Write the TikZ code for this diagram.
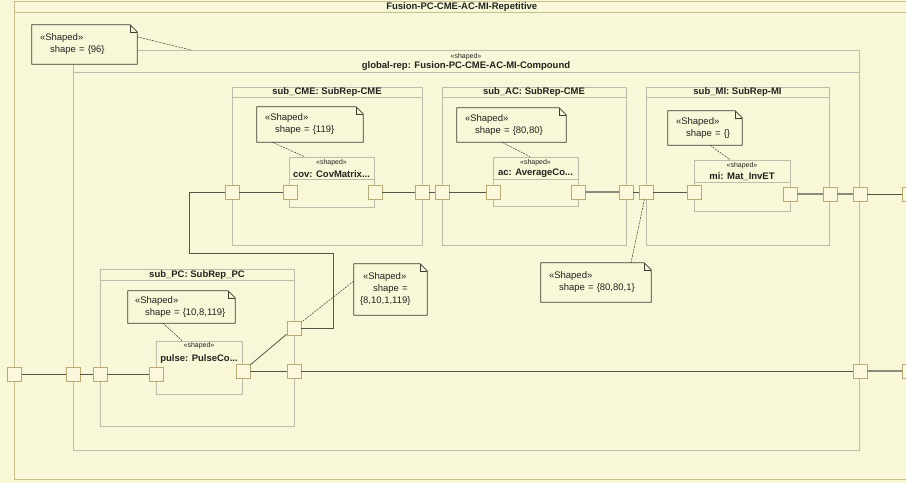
\documentclass[tikz,border=0pt]{standalone}
\usepackage{fontspec}
\setmainfont{Liberation Sans}
\usepackage{tikz}
\usetikzlibrary{positioning}

\definecolor{bgcol}{RGB}{248,247,216}
\definecolor{tanline}{RGB}{200,190,140}
\definecolor{framegray}{RGB}{190,188,172}
\definecolor{porttan}{RGB}{185,170,115}
\definecolor{portfill}{RGB}{251,248,222}
\definecolor{notebd}{RGB}{60,60,50}
\definecolor{connline}{RGB}{85,85,70}
\definecolor{conngray}{RGB}{140,140,125}
\definecolor{txtcol}{RGB}{35,35,30}

\begin{document}
\begin{tikzpicture}[
    x=1pt, y=-1pt,
    outerframe/.style={rectangle, draw=tanline, line width=1pt, inner sep=0pt},
    frame/.style={rectangle, draw=framegray, line width=0.8pt, inner sep=0pt},
    part/.style={rectangle, draw=framegray, fill=bgcol, line width=0.8pt, inner sep=0pt},
    port/.style={rectangle, draw=porttan, fill=portfill, line width=0.8pt, minimum size=14pt, inner sep=0pt},
    note/.style={rectangle, inner sep=0pt, align=left, text=txtcol,
      font=\fontsize{9.5}{12}\selectfont,
      append after command={\pgfextra{\filldraw[draw=notebd, fill=bgcol, line width=0.8pt]
        (\tikzlastnode.north west) -- ([xshift=-7pt]\tikzlastnode.north east)
        -- ([yshift=-7pt]\tikzlastnode.north east) -- (\tikzlastnode.south east)
        -- (\tikzlastnode.south west) -- cycle;
        \draw[notebd, line width=0.6pt]
        ([xshift=-7pt]\tikzlastnode.north east) |- ([yshift=-7pt]\tikzlastnode.north east);}}},
    ptitle/.style={font=\bfseries\fontsize{9.5}{11}\selectfont, text=txtcol, inner sep=0pt},
    stereo/.style={font=\fontsize{7}{8}\selectfont, text=txtcol, inner sep=0pt},
    hline/.style={draw=framegray, line width=0.8pt},
    conn/.style={draw=connline, line width=0.8pt},
    connb/.style={draw=conngray, line width=1.4pt},
    notelink/.style={draw=notebd, line width=0.5pt, dash pattern=on 2pt off 1pt}
  ]
    \path[use as bounding box] (0,0) rectangle (906,483);
    \clip (0,0) rectangle (906,483);
    \fill[bgcol] (0,0) rectangle (906,483);

    % Outer frame
    \node[outerframe, minimum width=894.5pt, minimum height=478pt] (outer) at (461.75,240) {};
    \draw[draw=tanline, line width=1pt] ([yshift=-11.5pt]outer.north west) -- ([yshift=-11.5pt]outer.north east);
    \node[ptitle] (tOuter) at ([yshift=-6.5pt]outer.north) {Fusion-PC-CME-AC-MI-Repetitive};

    % Compound part
    \node[frame, minimum width=786pt, minimum height=400pt] (globalrep) at (466,250) {};
    \draw[hline] ([yshift=-23pt]globalrep.north west) -- ([yshift=-23pt]globalrep.north east);
    \node[stereo] (sGlobal) at ([yshift=-7pt]globalrep.north) {«shaped»};
    \node[ptitle] (tGlobal) at ([yshift=-16.5pt]globalrep.north) {global-rep: Fusion-PC-CME-AC-MI-Compound};

    % Sub repetitions
    \node[frame, minimum width=190pt, minimum height=158pt] (subCME) at (327,166) {};
    \node[frame, minimum width=184pt, minimum height=158pt] (subAC) at (534,166) {};
    \node[frame, minimum width=183pt, minimum height=158pt] (subMI) at (737.5,166) {};
    \node[frame, minimum width=194pt, minimum height=157pt] (subPC) at (197,347.5) {};
    \draw[hline] ([yshift=-11pt]subCME.north west) -- ([yshift=-11pt]subCME.north east);
    \draw[hline] ([yshift=-11pt]subAC.north west) -- ([yshift=-11pt]subAC.north east);
    \draw[hline] ([yshift=-11pt]subMI.north west) -- ([yshift=-11pt]subMI.north east);
    \draw[hline] ([yshift=-12pt]subPC.north west) -- ([yshift=-12pt]subPC.north east);
    \node[ptitle] (tCME) at ([yshift=-5.5pt]subCME.north) {sub\_CME: SubRep-CME};
    \node[ptitle] (tAC) at ([yshift=-5.5pt]subAC.north) {sub\_AC: SubRep-CME};
    \node[ptitle] (tMI) at ([yshift=-5.5pt]subMI.north) {sub\_MI: SubRep-MI};
    \node[ptitle] (tPC) at ([yshift=-6pt]subPC.north) {sub\_PC: SubRep\_PC};

    % Elementary parts
    \node[part, minimum width=85pt, minimum height=50pt] (cov) at (331.5,182) {};
    \node[part, minimum width=85pt, minimum height=49pt] (ac) at (535.5,181.5) {};
    \node[part, minimum width=96pt, minimum height=51pt] (mi) at (742,185.5) {};
    \node[part, minimum width=86pt, minimum height=53pt] (pulse) at (199,367.5) {};
    \draw[hline] ([yshift=-23pt]cov.north west) -- ([yshift=-23pt]cov.north east);
    \draw[hline] ([yshift=-23pt]ac.north west) -- ([yshift=-23pt]ac.north east);
    \draw[hline] ([yshift=-23pt]mi.north west) -- ([yshift=-23pt]mi.north east);
    \node[stereo] (sCov) at ([yshift=-6pt]cov.north) {«shaped»};
    \node[ptitle] (tCov) at ([yshift=-17pt]cov.north) {cov: CovMatrix...};
    \node[stereo] (sAc) at ([yshift=-6pt]ac.north) {«shaped»};
    \node[ptitle] (tAc) at ([yshift=-17pt]ac.north) {ac: AverageCo...};
    \node[stereo] (sMi) at ([yshift=-6pt]mi.north) {«shaped»};
    \node[ptitle] (tMi) at ([yshift=-17pt]mi.north) {mi: Mat\_InvET};
    \node[stereo] (sPulse) at ([yshift=-5pt]pulse.north) {«shaped»};
    \node[ptitle] (tPulse) at ([yshift=-18pt]pulse.north) {pulse: PulseCo...};

    % Ports - upper chain
    \node[port] (pCMEl) at (232,192) {};
    \node[port] (pCovL) at (290,192) {};
    \node[port] (pCovR) at (375,192) {};
    \node[port] (pCMEr) at (422,192) {};
    \node[port] (pACl) at (442,192) {};
    \node[port] (pAcL) at (493,192) {};
    \node[port] (pAcR) at (578,192) {};
    \node[port] (pACr) at (626,192) {};
    \node[port] (pMIl) at (646,192) {};
    \node[port] (pMiL) at (694,192) {};
    \node[port] (pMiR) at (790,194) {};
    \node[port] (pMIr) at (830,194) {};
    \node[port] (pGr1) at (860,194) {};
    \node[port] (pOr1) at (909,194) {};

    % Ports - lower chain
    \node[port] (pOl) at (14.5,374) {};
    \node[port] (pGl) at (73,374) {};
    \node[port] (pPCl) at (100,374) {};
    \node[port] (pPuL) at (156,374) {};
    \node[port] (pPuR) at (243,371) {};
    \node[port] (pPCr1) at (294,328) {};
    \node[port] (pPCr2) at (294,371) {};
    \node[port] (pGr2) at (860,371) {};
    \node[port] (pOr2) at (909,371) {};

    % Connectors
    \draw[conn] (pCMEl) -- (pCovL);
    \draw[conn] (pCovR) -- (pCMEr);
    \draw[conn] (pCMEr) -- (pACl);
    \draw[conn] (pACl) -- (pAcL);
    \draw[connb] (pAcR) -- (pACr);
    \draw[conn] (pACr) -- (pMIl);
    \draw[conn] (pMIl) -- (pMiL);
    \draw[connb] (pMiR) -- (pMIr);
    \draw[connb] (pMIr) -- (pGr1);
    \draw[conn] (pGr1) -- (pOr1);
    \draw[conn] (pOl) -- (pGl);
    \draw[conn] (pGl) -- (pPCl);
    \draw[conn] (pPCl) -- (pPuL);
    \draw[conn] (pPuR) -- (pPCr1);
    \draw[conn] (pPuR) -- (pPCr2);
    \draw[conn] (pPCr2) -- (pGr2);
    \draw[connb] (pGr2) -- (pOr2);
    \coordinate (bendA) at (333,253);
    \coordinate (bendB) at (189,253);
    \draw[conn] (pPCr1) -| (bendA) -- (bendB) |- (pCMEl);

    % Shape notes
    \node[note, minimum width=105pt, minimum height=39pt, text width=89pt] (n96) at (84.5,44.5)
      {«Shaped»\\\hspace*{10pt}shape = \{96\}};
    \node[note, minimum width=106pt, minimum height=35pt, text width=90pt] (n119) at (310,124.5)
      {«Shaped»\\\hspace*{10pt}shape = \{119\}};
    \node[note, minimum width=109pt, minimum height=34pt, text width=93pt] (n8080) at (511.5,125)
      {«Shaped»\\\hspace*{10pt}shape = \{80,80\}};
    \node[note, minimum width=74pt, minimum height=34pt, text width=58pt] (nmi) at (705,128)
      {«Shaped»\\\hspace*{10pt}shape = \{\}};
    \node[note, minimum width=107pt, minimum height=32pt, text width=93pt] (n10) at (181.5,307)
      {«Shaped»\\\hspace*{10pt}shape = \{10,8,119\}};
    \node[note, minimum width=73pt, minimum height=51pt, text width=61pt] (n81119) at (390.5,289.5)
      {\hspace*{3pt}«Shaped»\\\hspace*{13pt}shape =\\\{8,10,1,119\}};
    \node[note, minimum width=110pt, minimum height=39pt, text width=94pt] (n80801) at (596,282.5)
      {«Shaped»\\\hspace*{10pt}shape = \{80,80,1\}};

    % Note anchors
    \coordinate (gTouch) at (191,50);
    \draw[notelink] ([yshift=-12pt]n96.north east) -- (gTouch);
    \draw[notelink] ([xshift=-38pt]n119.south) -- ([xshift=-27pt]cov.north);
    \draw[notelink] ([xshift=-9.5pt]n8080.south) -- ([xshift=-5.5pt]ac.north);
    \draw[notelink] ([xshift=5pt]nmi.south) -- ([xshift=-12pt]mi.north);
    \draw[notelink] ([xshift=-18.5pt]n10.south) -- ([xshift=-17pt]pulse.north);
    \draw[notelink] ([yshift=8.5pt]n81119.west) -- (pPCr1);
    \draw[notelink] ([xshift=35pt]n80801.north) -- (pMIl);

\end{tikzpicture}
\end{document}
